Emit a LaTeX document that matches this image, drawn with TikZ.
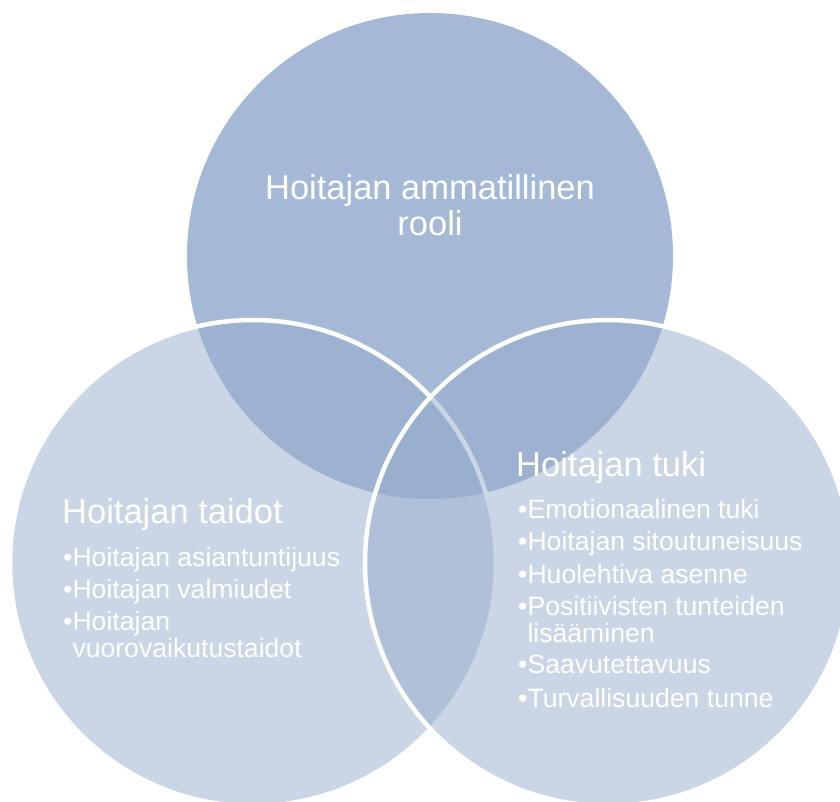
\documentclass[tikz,border=0pt]{standalone}
\usepackage{fontspec}
\setmainfont{Liberation Sans}
\definecolor{topc}{RGB}{165,185,214}
\definecolor{sidec}{RGB}{151,173,205}
\begin{document}
\begin{tikzpicture}[x=1pt,y=-1pt,
  circlebig/.style={line width=4.5pt, draw=white},
  titletext/.style={text=white, inner sep=0pt, font=\fontsize{34.5}{31}\selectfont},
  itemtext/.style={text=white, inner sep=0pt, anchor=base west, font=\fontsize{26.6}{27}\selectfont},
]
\useasboundingbox (0,0) rectangle (840,802);
\clip (0,0) rectangle (840,802);
\fill[white] (0,0) rectangle (840,802);
% circles
\fill[topc] (430,256) circle[radius=243pt];
\path[circlebig, fill=sidec, fill opacity=0.5] (253,563) circle[radius=243pt];
\path[circlebig, fill=sidec, fill opacity=0.5] (608,563) circle[radius=243pt];
% top title
\node[titletext, anchor=base] (t1) at (430,200) {Hoitajan ammatillinen};
\node[titletext, anchor=base] (t2) at (430,236) {rooli};
% left
\node[titletext, anchor=base west] (l0) at (62,523) {Hoitajan taidot};
\node[itemtext] (l1) at (63,566) {•Hoitajan asiantuntijuus};
\node[itemtext] (l2) at (63,598) {•Hoitajan valmiudet};
\node[itemtext] (l3) at (63,630) {•Hoitajan};
\node[itemtext] (l3b) at (72.3,657) {vuorovaikutustaidot};
% right
\node[titletext, anchor=base west] (r0) at (516,476) {Hoitajan tuki};
\node[itemtext] (r1) at (518,518) {•Emotionaalinen tuki};
\node[itemtext] (r2) at (518,550) {•Hoitajan sitoutuneisuus};
\node[itemtext] (r3) at (518,583) {•Huolehtiva asenne};
\node[itemtext] (r4) at (518,615) {•Positiivisten tunteiden};
\node[itemtext] (r4b) at (527.3,642) {lisääminen};
\node[itemtext] (r5) at (518,673) {•Saavutettavuus};
\node[itemtext] (r6) at (518,707) {•Turvallisuuden tunne};
\end{tikzpicture}
\end{document}
